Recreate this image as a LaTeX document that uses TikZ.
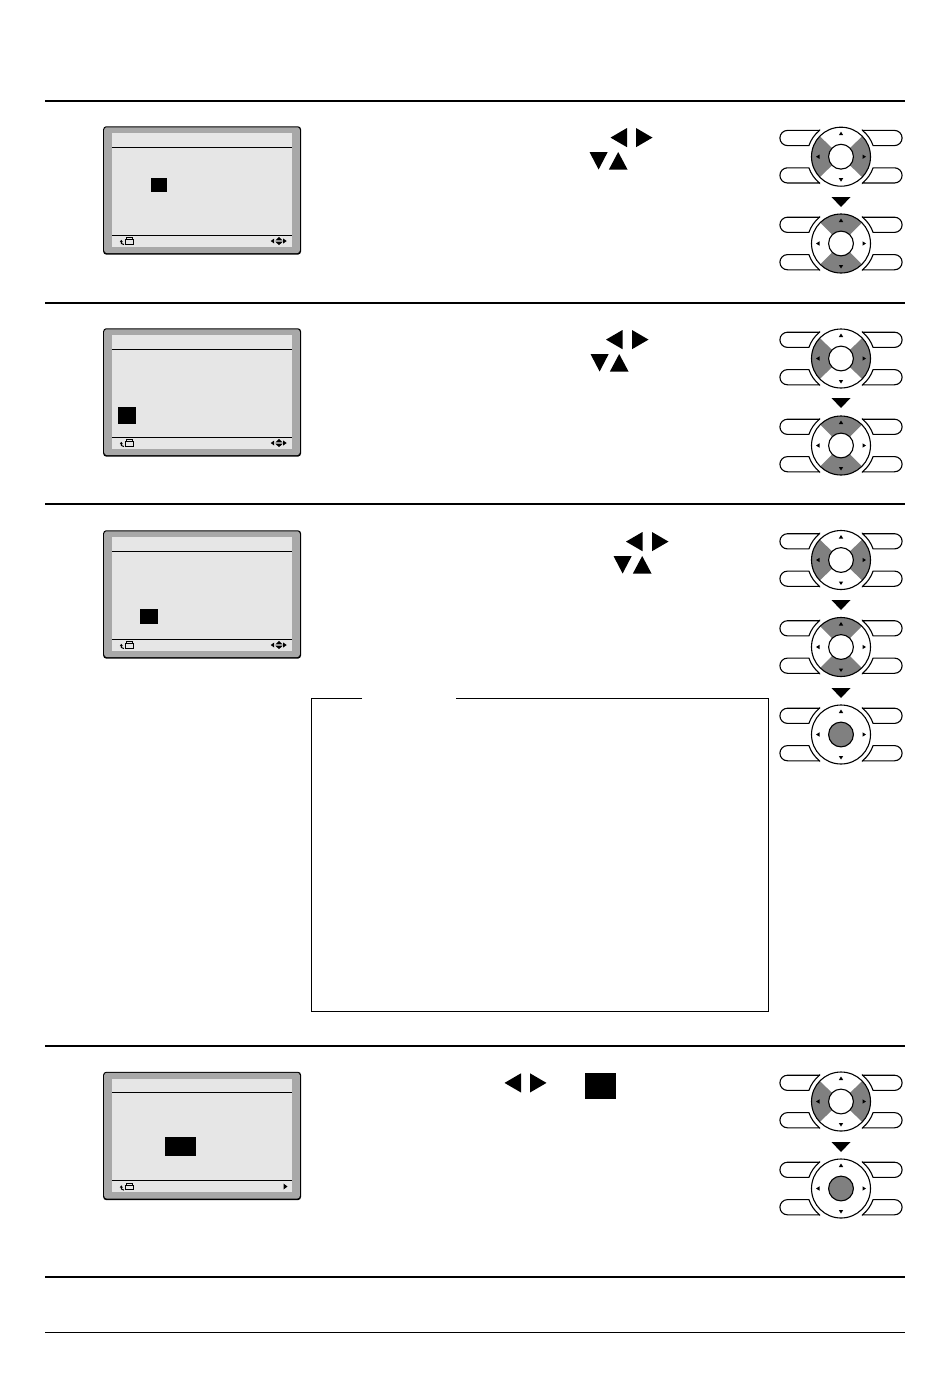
\documentclass[tikz,border=0pt]{standalone}
\definecolor{framegray}{HTML}{A8A8A8}
\definecolor{lcdgray}{HTML}{E6E6E6}
\definecolor{padgray}{HTML}{808080}
\tikzset{
  rule/.style={line width=1.5pt,black},
  thinrule/.style={line width=1pt,black},
  padline/.style={line width=1.1pt,black},
  solidtri/.style={fill=black,draw=none},
  wedge/.style={fill=padgray,draw=none},
}
% pill button, given its mirror signs
\newcommand{\padpill}[2]{%
  \begin{scope}[xscale=#1,yscale=#2]
  \draw[padline,fill=white]
    (21.5,26.3) -- (53.5,26.3) arc[start angle=90,end angle=-90,radius=7.6]
    -- (32.1,11.1) arc[start angle=19.07,end angle=50.7,radius=34] -- cycle;
  \end{scope}}
\newcommand{\padwedge}[1]{%
  \fill[wedge] (#1-\wa:12) arc[start angle=#1-\wa,end angle=#1+\wa,radius=12]
    -- (#1+\wa:29.5) arc[start angle=#1+\wa,end angle=#1-\wa,radius=29.5] -- cycle;}
% #1 = centre, #2 = 0 none, 1 left/right lit, 2 up/down lit, 3 centre lit
\newcommand{\pad}[2]{%
  \begin{scope}[shift={#1},x=1pt,y=1pt]
    \padpill{1}{1}\padpill{-1}{1}\padpill{1}{-1}\padpill{-1}{-1}
    \fill[white] (0,0) circle[radius=29.5];
    \ifcase#2\or
      \def\wa{44}\padwedge{0}\padwedge{180}\or
      \def\wa{45}\padwedge{90}\padwedge{270}\else\fi
    \draw[padline] (0,0) circle[radius=29.5];
    \ifnum#2=3 \draw[padline,fill=padgray] (0,0) circle[radius=12.4];
    \else \draw[padline,fill=white] (0,0) circle[radius=12.4];\fi
    \fill (0,25) -- (-2.2,21.5) -- (2.2,21.5) -- cycle;
    \fill (0,-25) -- (-2.2,-21.5) -- (2.2,-21.5) -- cycle;
    \fill (-25,0) -- (-21.5,-2.2) -- (-21.5,2.2) -- cycle;
    \fill (25,0) -- (21.5,-2.2) -- (21.5,2.2) -- cycle;
  \end{scope}}
% big arrow between pads
\newcommand{\padstep}[1]{\fill (831.5,#1-5) -- (850.5,#1-5) -- (841,#1+5) -- cycle;}
% screen: #1 = top offset, #2 = 1 for the four-way icon, 0 for the single arrow
\newcommand{\screen}[2]{%
  \begin{scope}[yshift=-#1pt]
    \fill[black,rounded corners=3pt] (103.2,126.3) rectangle (301,254.6);
    \fill[framegray,rounded corners=2.5pt] (104.2,127.3) rectangle (299.8,253);
    \fill[lcdgray] (112,133) rectangle (292,246.7);
    \draw[line width=.9pt] (112,147.4) -- (292,147.4);
    \draw[line width=.9pt] (112,235.4) -- (292,235.4);
    \draw[line width=.9pt] (125.5,239.5) rectangle (133,244);
    \draw[line width=.9pt] (126.5,239.5) -- (126.5,237.6) -- (132,237.6) -- (132,239.5);
    \draw[line width=1pt] (121.3,241.5) .. controls (120.6,243) and (121.3,244.3) .. (124,244.6);
    \fill (119.8,242) -- (122.8,242) -- (121.3,239.8) -- cycle;
    \ifnum#2=1
      \fill (270.7,241) -- (274.2,238.5) -- (274.2,243.5) -- cycle;
      \fill (279,236.8) -- (282.6,240.4) -- (275.4,240.4) -- cycle;
      \fill (279,245.2) -- (282.6,241.7) -- (275.4,241.7) -- cycle;
      \fill (286.7,241) -- (283.2,238.5) -- (283.2,243.5) -- cycle;
    \else
      \fill (287.5,241) -- (283.5,238) -- (283.5,244) -- cycle;
    \fi
  \end{scope}}
% four direction triangles of a text line
\newcommand{\lrtri}[3]{% left tip x, right tip x, top y
  \fill[solidtri] (#1,#3+9.6) -- (#1+16.5,#3) -- (#1+16.5,#3+19.2) -- cycle;
  \fill[solidtri] (#2,#3+9.6) -- (#2-16.5,#3) -- (#2-16.5,#3+19.2) -- cycle;}
\newcommand{\udtri}[2]{% left x, top y
  \fill[solidtri] (#1,#2) -- (#1+18.2,#2) -- (#1+9.1,#2+17.5) -- cycle;
  \fill[solidtri] (#1+19.4,#2+17.5) -- (#1+38,#2+17.5) -- (#1+28.7,#2) -- cycle;}
\begin{document}
\begin{tikzpicture}[x=1pt,y=-1pt]
\useasboundingbox (0,0) rectangle (950,1374);
\fill[white] (0,0) rectangle (950,1374);
% rules
\draw[rule] (45,101) -- (905,101);
\draw[rule] (45,303) -- (905,303);
\draw[rule] (45,504) -- (905,504);
\draw[rule] (45,1046) -- (905,1046);
\draw[rule] (45,1277) -- (905,1277);
\draw[thinrule] (45,1332) -- (905,1332);
% screens
\screen{0}{1}
\screen{202}{1}
\screen{404}{1}
\screen{945.5}{0}
% highlighted cells
\fill (150.7,178.2) rectangle (167,192);
\fill (118,407) rectangle (136,424);
\fill (140,609) rectangle (158,624);
\fill (165,1137) rectangle (196,1155.5);
% direction triangles
\lrtri{610.5}{652.5}{128}\udtri{589.5}{152}
\lrtri{606}{648.5}{330}\udtri{590.5}{354}
\lrtri{626}{668.5}{532}\udtri{613.5}{556}
\lrtri{504.5}{546.5}{1073.3}
\fill (584.5,1072.8) rectangle (615.8,1099);
% pads
\pad{(841,156.7)}{1}\padstep{202}\pad{(841,243.5)}{2}
\pad{(841,358.5)}{1}\padstep{403}\pad{(841,445.5)}{2}
\pad{(841,560)}{1}\padstep{605}\pad{(841,647)}{2}\padstep{693}\pad{(841,734.5)}{3}
\pad{(841,1101.5)}{1}\padstep{1147}\pad{(841,1188.5)}{3}
% note box with a gap in its top edge
\draw[line width=1pt] (362,698.5) -- (311.5,698.5) -- (311.5,1011.5) -- (768.5,1011.5) -- (768.5,698.5) -- (456,698.5);
\end{tikzpicture}
\end{document}
